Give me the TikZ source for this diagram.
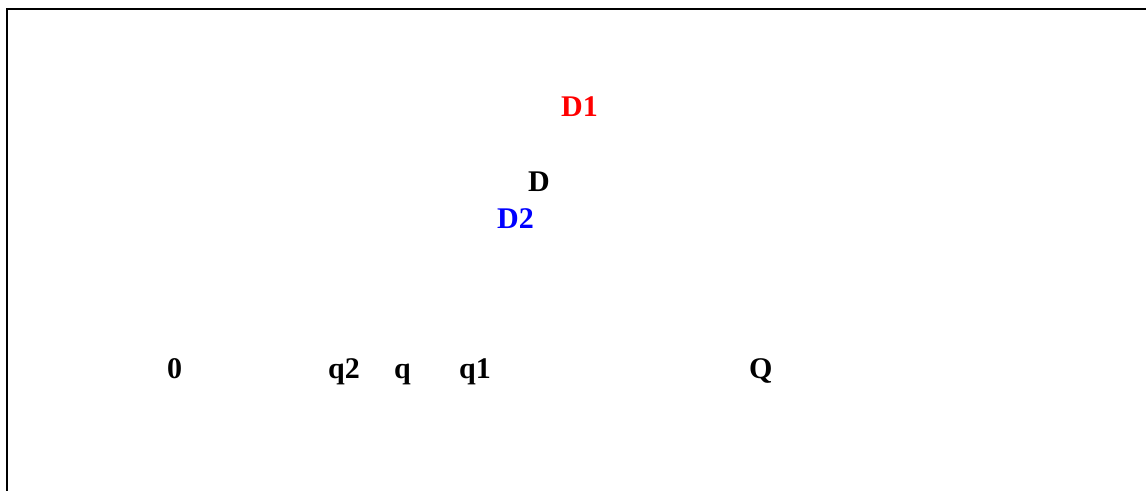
\documentclass[tikz,border=0pt]{standalone}
\usepackage{fontspec}
\setmainfont{Liberation Serif}
\usepackage{xcolor}
\usepackage{tikz}
\usetikzlibrary{positioning}
\tikzset{
  lbl/.style={anchor=base west, inner sep=0pt, font=\fontsize{30}{34}\selectfont\bfseries},
  frame/.style={line width=2pt, color=black}
}
\begin{document}
\begin{tikzpicture}[x=1pt, y=-1pt]
    \useasboundingbox (0,0) rectangle (1146,490);
    \draw[frame] (7,491) -- (7,9) -- (1147,9);
    % labels above the axis
    \node[lbl, text=red]  (lblDone) at (561,116) {D1};
    \node[lbl]            (lblD)    at (528,191) {D};
    \node[lbl, text=blue] (lblDtwo) at (497,228) {D2};
    % labels along the axis
    \node[lbl] (lblzero) at (167,378) {0};
    \node[lbl] (lblqtwo) at (328,378) {q2};
    \node[lbl] (lblq)    at (394,378) {q};
    \node[lbl] (lblqone) at (459,378) {q1};
    \node[lbl] (lblQ)    at (749,378) {Q};
\end{tikzpicture}
\end{document}
